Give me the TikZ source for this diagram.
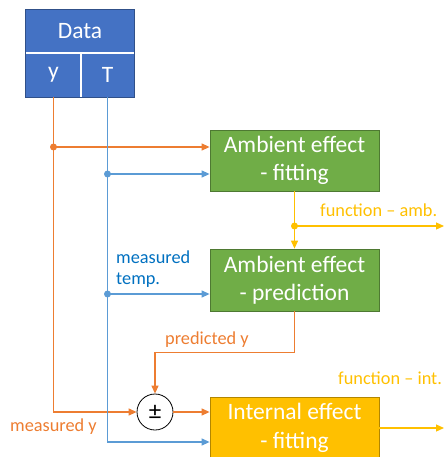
\documentclass[tikz,border=0pt]{standalone}
\usepackage{fontspec}
\setmainfont{Carlito}
\usepackage{xcolor}
\usetikzlibrary{arrows.meta,positioning,calc}

\definecolor{boxblue}{HTML}{4472C4}
\definecolor{boxgreen}{HTML}{70AD47}
\definecolor{boxgold}{HTML}{FFC000}
\definecolor{lorange}{HTML}{ED7D31}
\definecolor{lblue}{HTML}{5B9BD5}
\definecolor{tblue}{HTML}{0070C0}

\begin{document}
\begin{tikzpicture}[x=1pt, y=-1pt,
    box/.style={draw=#1!70!black, fill=#1, text=white, line width=0.8pt,
        minimum width=169pt, minimum height=61pt, inner sep=0pt,
        align=center, font=\fontsize{23.5}{28.5}\selectfont},
    cell/.style={fill=boxblue, text=white, inner sep=0pt,
        font=\fontsize{23.5}{26}\selectfont},
    lbl/.style={inner sep=0pt, font=\fontsize{18.3}{21}\selectfont},
    flow/.style={#1, line width=1.2pt, -{Triangle[length=8pt,width=7pt]}},
    dot/.style={fill=#1}]
    \useasboundingbox (0,0) rectangle (444,457);

    % Data table
    \node[cell, minimum width=108pt, minimum height=43pt] (data) at (80,31.5) {Data};
    \node[cell, minimum width=55pt, minimum height=44pt] (ycell) at (53.5,75) {y};
    \node[cell, minimum width=53pt, minimum height=44pt] (tcell) at (107.5,75) {T};
    \draw[boxblue!70!black, line width=0.8pt] (data.north west) rectangle (tcell.south east);
    \draw[white, line width=2pt] (data.south west) -- (data.south east);
    \draw[white, line width=2pt] (ycell.north east) -- (ycell.south east);

    % Blocks
    \node[box=boxgreen] (fit) at (294.5,160.5) {Ambient effect\\- fitting};
    \node[box=boxgreen, minimum height=62pt] (pred) at (294.5,280) {Ambient effect\\- prediction};
    \node[box=boxgold, minimum height=62pt] (internal) at (294.5,428) {Internal effect\\- fitting};
    \node[draw, circle, fill=white, line width=0.8pt, minimum size=36pt, inner sep=0pt,
        font=\fontsize{25}{26}\selectfont] (sum) at (155,412) {\raisebox{-1pt}{±}};

    % Measured y
    \coordinate (ydot) at (ycell.south |- 0,147);
    \draw[flow=lorange] (ycell.south) |- (sum.west);
    \draw[flow=lorange] (ydot) -- ([yshift=13.5pt]fit.west);
    \fill[dot=lorange] (ydot) circle (3.5pt);
    \draw[flow=lorange] (sum.east) -- (sum.east -| internal.west);

    % Measured temperature
    \coordinate (tdot1) at (tcell.south |- 0,174);
    \coordinate (tdot2) at (tcell.south |- 0,294);
    \draw[flow=lblue] (tcell.south) |- ([yshift=-14pt]internal.west);
    \draw[flow=lblue] (tdot1) -- ([yshift=-13.5pt]fit.west);
    \draw[flow=lblue] (tdot2) -- ([yshift=-14pt]pred.west);
    \fill[dot=lblue] (tdot1) circle (3.5pt);
    \fill[dot=lblue] (tdot2) circle (3.5pt);

    % Ambient function
    \coordinate (fdot) at (fit.south |- 0,226);
    \draw[flow=boxgold] (fit.south) -- (pred.north);
    \draw[flow=boxgold] (fdot) -- (444,226);
    \fill[dot=boxgold] (fdot) circle (3.5pt);

    % Predicted y
    \draw[flow=lorange] (pred.south) -- ++(0,41) -| (sum.north);

    % Internal function
    \draw[flow=boxgold] (internal.east) -- (444,428);

    % Labels
    \node[lbl, text=lorange, anchor=base west] (measy) at (10,431) {measured y};
    \node[lbl, text=lorange, anchor=base west] (predy) at (165,344) {predicted y};
    \node[lbl, text=tblue, anchor=base west, align=left] (meast) at (116,284) {measured\\temp.};
    \node[lbl, text=boxgold, anchor=base west] (famb) at (320,216) {function -- amb.};
    \node[lbl, text=boxgold, anchor=base west] (fint) at (338,384) {function -- int.};
\end{tikzpicture}
\end{document}
